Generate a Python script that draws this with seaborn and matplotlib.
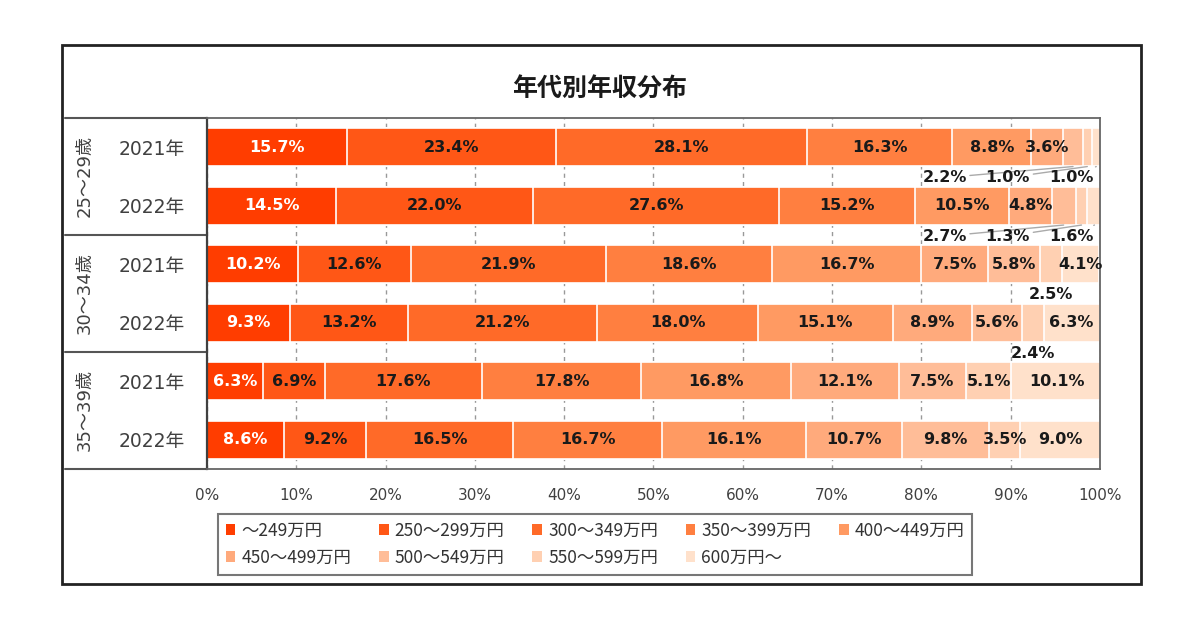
import numpy as np
import pandas as pd
import matplotlib
matplotlib.use("Agg")
import matplotlib.pyplot as plt
import matplotlib.transforms as mtransforms
from matplotlib.patches import Patch, Rectangle
import seaborn as sns

# データ
age_groups = ["25～29歳", "30～34歳", "35～39歳"]
years = ["2021年", "2022年"]
income_bands = ["～249万円", "250～299万円", "300～349万円", "350～399万円", "400～449万円",
                "450～499万円", "500～549万円", "550～599万円", "600万円～"]

share_25_29_2021 = [15.7, 23.4, 28.1, 16.3, 8.8, 3.6, 2.2, 1.0, 1.0]
share_25_29_2022 = [14.5, 22.0, 27.6, 15.2, 10.5, 4.8, 2.7, 1.3, 1.6]
share_30_34_2021 = [10.2, 12.6, 21.9, 18.6, 16.7, 7.5, 5.8, 2.5, 4.1]
share_30_34_2022 = [9.3, 13.2, 21.2, 18.0, 15.1, 8.9, 5.6, 2.4, 6.3]
share_35_39_2021 = [6.3, 6.9, 17.6, 17.8, 16.8, 12.1, 7.5, 5.1, 10.1]
share_35_39_2022 = [8.6, 9.2, 16.5, 16.7, 16.1, 10.7, 9.8, 3.5, 9.0]

colors = ["#FF3D00", "#FF5716", "#FF6A28", "#FF7F40", "#FF9A62",
          "#FFAA7C", "#FFBD98", "#FFD0B2", "#FFE1CB"]

shares = np.array([share_25_29_2021, share_25_29_2022,
                   share_30_34_2021, share_30_34_2022,
                   share_35_39_2021, share_35_39_2022])
row_keys = [f"{g} {y}" for g in age_groups for y in years]
row_years = [y for g in age_groups for y in years]

sns.set_theme(style="white")
plt.rcParams['font.family'] = ['DejaVu Sans', 'Noto Sans CJK JP']

fig = plt.figure(figsize=(12, 6.3), dpi=100)
ax = fig.add_axes([0.1725, 0.2556, 0.744, 0.5571])

# 積み上げ棒（累積値を大きい方から描く）
cum = np.cumsum(shares, axis=1)
for i in range(len(income_bands) - 1, -1, -1):
    df = pd.DataFrame({"row": row_keys, "val": cum[:, i]})
    sns.barplot(data=df, x="val", y="row", orient="h", color=colors[i],
                width=0.65, edgecolor="white", linewidth=1.2, saturation=1,
                ax=ax, zorder=2)

ax.set_xlim(0, 100)
ax.set_ylim(5.5, -0.5)
ax.set_xticks(np.arange(0, 101, 10))
ax.set_xticklabels([f"{v}%" for v in range(0, 101, 10)], fontsize=11, color="#404040")
ax.set_yticks(range(len(row_keys)))
ax.set_yticklabels(row_years, fontsize=13.5, color="#404040")
ax.set_xlabel("")
ax.set_ylabel("")
ax.tick_params(axis="y", length=0, pad=16)
ax.tick_params(axis="x", length=0, pad=14)
ax.grid(axis="x", linestyle=(0, (3, 3)), color="#999999", linewidth=1)
ax.grid(axis="y", visible=False)
ax.set_axisbelow(True)
for side in ["top", "right", "bottom"]:
    ax.spines[side].set_color("#666666")
    ax.spines[side].set_linewidth(1.3)
ax.spines["left"].set_color("#404040")
ax.spines["left"].set_linewidth(1.6)

# 数値ラベル
for r in range(shares.shape[0]):
    small = [i for i in range(shares.shape[1]) if shares[r, i] < 3]
    for i in range(shares.shape[1]):
        v = shares[r, i]
        center = cum[r, i] - v / 2
        if v >= 3:
            ax.text(center, r, f"{v:.1f}%", ha="center", va="center",
                    fontsize=11.5, fontweight="bold",
                    color="white" if i == 0 else "#1a1a1a", zorder=5)
    if len(small) == 1:
        i = small[0]
        ax.text(cum[r, i] - shares[r, i] / 2, r + 0.52, f"{shares[r, i]:.1f}%",
                ha="center", va="center", fontsize=11.5, fontweight="bold",
                color="#1a1a1a", zorder=5)
    elif len(small) > 1:
        for j, i in enumerate(small):
            lx = 96.8 - 7.1 * (len(small) - 1 - j)
            ax.annotate(f"{shares[r, i]:.1f}%",
                        xy=(cum[r, i] - shares[r, i] / 2, r + 0.33),
                        xytext=(lx, r + 0.52), ha="center", va="center",
                        fontsize=11.5, fontweight="bold", color="#1a1a1a",
                        arrowprops=dict(arrowstyle="-", color="#aaaaaa", lw=1,
                                        shrinkA=0, shrinkB=0),
                        zorder=5, annotation_clip=False)

# 左側の表（年代ラベルと区切り線）
trans = mtransforms.blended_transform_factory(ax.transAxes, ax.transData)
for yy in [-0.5, 1.5, 3.5, 5.5]:
    ax.plot([-0.159, 0], [yy, yy], transform=trans, color="#555555",
            lw=1.5, clip_on=False)
for k, g in enumerate(age_groups):
    ax.text(-0.137, 2 * k + 0.5, g, transform=trans, rotation=90,
            ha="center", va="center", fontsize=13, color="#404040")

fig.suptitle("年代別年収分布", x=0.5, y=0.877, fontsize=18, fontweight="bold",
             family=["Noto Sans CJK JP"], color="#1a1a1a")

# 凡例（行方向に並べるため順序を入れ替える）
handles = [Patch(facecolor=c, edgecolor="none") for c in colors]
order = [0, 5, 1, 6, 2, 7, 3, 8, 4]
leg = fig.legend([handles[k] for k in order], [income_bands[k] for k in order],
                 loc="center", bbox_to_anchor=(0.496, 0.136),
                 ncol=5, frameon=True, fancybox=False,
                 handlelength=0.55, handleheight=0.6, handletextpad=0.35,
                 columnspacing=1.6, borderpad=0.45, labelspacing=0.55,
                 borderaxespad=0,
                 prop={"family": ["Noto Sans CJK JP"], "size": 12.5})
leg.get_frame().set_edgecolor("#555555")
leg.get_frame().set_linewidth(1.5)
for t in leg.get_texts():
    t.set_color("#333333")

# 外枠
fig.patches.append(Rectangle((0.0517, 0.073), 0.899, 0.855, transform=fig.transFigure,
                             fill=False, edgecolor="#222222", linewidth=2))

fig.savefig("out.png", dpi=100, facecolor="white")
